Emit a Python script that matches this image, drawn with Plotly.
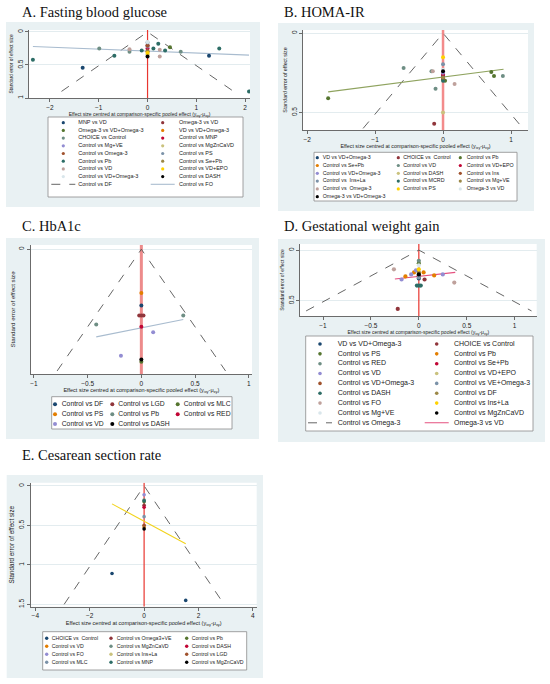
import plotly.graph_objects as go

W, H = 550, 684

# ---------------- data ----------------
# A. Fasting blood glucose
A_LABELS = ["MNP vs VD", "Omega-3 vs VD", "Omega-3 vs VD+Omega-3", "VD vs VD+Omega-3",
            "CHOICE vs Control", "Control vs MNP", "Control vs Mg+VE", "Control vs MgZnCaVD",
            "Control vs Omega-3", "Control vs PS", "Control vs Pb", "Control vs Se+Pb",
            "Control vs VD", "Control vs VD+EPO", "Control vs VD+Omega-3", "Control vs DASH"]
A_X = [[-1.33, 1.26], [0], [0.46], [0], [-0.99, 0.68, -0.37], [0], [0], [0], [0], [0],
       [-2.35, -0.68, -0.12, 0.12, 0.22, 0.36, 1.47, 2.08], [0], [-0.37, 0.25, 0.25], [0], [0], [0]]
A_SE = [[0.54, 0.36], [0.2], [0.23], [0.3], [0.25, 0.3, 0.3], [0.25], [0.22], [0.34], [0.21], [0.16],
        [0.42, 0.36, 0.28, 0.25, 0.18, 0.28, 0.25, 0.9], [0.29], [0.26, 0.27, 0.37], [0.32], [0.15], [0.37]]
A_FIT_X = [-2.35, 2.08]
A_FIT_SE = [0.22, 0.35]
A_SE_MAX = 0.9
A_LINE_LABELS = ["Control vs DF", "Control vs FO"]
A_XTICKS = [-2, -1, 0, 1, 2]
A_YTICKS = [0, 0.5, 1]

# B. HOMA-IR
B_LABELS = ["VD vs VD+Omega-3", "CHOICE vs  Control", "Control vs Pb", "Control vs Se+Pb",
            "Control vs VD", "Control vs VD+EPO", "Control vs VD+Omega-3", "Control vs DASH",
            "Control vs Ins", "Control vs  Ins+La", "Control vs MCRD", "Control vs Mg+VE",
            "Control vs  Omega-3", "Control vs PS", "Omega-3 vs VD", "Omega-3 vs VD+Omega-3"]
B_X = [[0], [-0.13], [-1.69, 0.71, 0.75, 0.03], [0], [-0.58, -0.17, 0.88, -0.11], [0], [0], [0],
       [0], [0], [0], [0], [-0.15, 0.17], [0], [0], [0]]
B_SE = [[0.27], [0.57], [0.41, 0.245, 0.27, 0.3], [0.29], [0.22, 0.24, 0.27, 0.35], [0.26], [0.25], [0.5],
        [0.285], [0.196], [0.3], [0.28], [0.24, 0.32], [0.152], [0.23], [0.24]]
B_FIT_X = [-1.69, 0.89]
B_FIT_SE = [0.37, 0.227]
B_SE_MAX = 0.6
B_LINE_LABELS = []
B_XTICKS = [-2, -1, 0, 1]
B_YTICKS = [0, 0.5]

# C. HbA1c
C_LABELS = ["Control vs DF", "Control vs LGD", "Control vs MLC", "Control vs PS",
            "Control vs Pb", "Control vs RED", "Control vs VD", "Control vs DASH"]
C_X = [[0], [-0.02, 0, 0.02], [0], [0], [-0.42, 0.39], [0], [0.11, -0.19], [0]]
C_SE = [[0.185], [0.218, 0.218, 0.218], [0.37], [0.144], [0.247, 0.218], [0.255], [0.273, 0.35], [0.362]]
C_FIT_X = [-0.42, 0.39]
C_FIT_SE = [0.288, 0.231]
C_SE_MAX = 0.4
C_LINE_LABELS = []
C_XTICKS = [-1, -0.5, 0, 0.5, 1]
C_YTICKS = [0]

# D. Gestational weight gain
D_LABELS = ["VD vs VD+Omega-3", "CHOICE vs Control", "Control vs PS", "Control vs Pb",
            "Control vs RED", "Control vs Se+Pb", "Control vs VD", "Control vs VD+EPO",
            "Control vs VD+Omega-3", "Control vs VE+Omega-3", "Control vs DASH", "Control vs DF",
            "Control vs FO", "Control vs Ins+La", "Control vs Mg+VE", "Control vs MgZnCaVD"]
D_X = [[0], [0.06, -0.22], [0], [-0.05, -0.14, 0.05, 0.16], [0], [0], [-0.03, -0.08, -0.18, 0.25],
       [0], [0], [0], [-0.02, 0, 0.02], [0], [-0.26, 0.37], [0], [0], [0]]
D_SE = [[0.28], [0.29, 0.58], [0.13], [0.22, 0.26, 0.22, 0.25], [0.105], [0.25], [0.2, 0.24, 0.29, 0.24],
        [0.23], [0.26], [0.27], [0.35, 0.35, 0.35], [0.22], [0.19, 0.32], [0.19], [0.15], [0.24]]
D_FIT_X = [-0.25, 0.38]
D_FIT_SE = [0.285, 0.22]
D_SE_MAX = 0.6
D_LINE_LABELS = ["Control vs Omega-3", "Omega-3 vs VD"]
D_XTICKS = [-1, -0.5, 0, 0.5, 1]
D_YTICKS = [0, 0.5]

# E. Cesarean section rate
E_LABELS = ["CHOICE vs  Control", "Control vs Omega3+VE", "Control vs Pb", "Control vs VD",
            "Control vs MgZnCaVD", "Control vs DASH", "Control vs FO", "Control vs Ins+La",
            "Control vs LGD", "Control vs MLC", "Control vs MNP", "Control vs MgZnCaVD"]
E_X = [[-1.18, 1.53], [0], [0], [0], [0], [0], [0], [0], [0], [0], [0], [0]]
E_SE = [[1.11, 1.45], [0.245], [0.2], [0.52], [0.18], [0.27], [0.114], [0.506], [0.5], [0.39], [0.19], [0.545]]
E_FIT_X = [-1.18, 1.53]
E_FIT_SE = [0.228, 0.734]
E_SE_MAX = 1.5
E_LINE_LABELS = []
E_XTICKS = [-4, -2, 0, 2, 4]
E_YTICKS = [0, 0.5, 1, 1.5]

XTITLE = "Effect size centred at comparison-specific pooled effect (y<sub>ixy</sub>-μ<sub>xy</sub>)"
YTITLE = "Standard error of effect size"

# ---------------- style ----------------
SANS = "Liberation Sans, Arial, sans-serif"
SERIF = "Liberation Serif, Times New Roman, serif"
BG = "#e9f1f3"
S2 = ["#1a476f", "#90353b", "#55752f", "#e37e00", "#6e8e84", "#c10534", "#938dd2", "#cac27e",
      "#a0522d", "#7b92a8", "#2d6d66", "#9c8847", "#bfa19c", "#ffd200", "#d9e6eb", "#000000"]

PANELS = [
    dict(title="A. Fasting blood glucose", labels=A_LABELS, x=A_X, se=A_SE, fit_x=A_FIT_X, fit_se=A_FIT_SE,
         se_max=A_SE_MAX, line_labels=A_LINE_LABELS, xticks=A_XTICKS, yticks=A_YTICKS),
    dict(title="B. HOMA-IR", labels=B_LABELS, x=B_X, se=B_SE, fit_x=B_FIT_X, fit_se=B_FIT_SE,
         se_max=B_SE_MAX, line_labels=B_LINE_LABELS, xticks=B_XTICKS, yticks=B_YTICKS),
    dict(title="C. HbA1c", labels=C_LABELS, x=C_X, se=C_SE, fit_x=C_FIT_X, fit_se=C_FIT_SE,
         se_max=C_SE_MAX, line_labels=C_LINE_LABELS, xticks=C_XTICKS, yticks=C_YTICKS),
    dict(title="D. Gestational weight gain", labels=D_LABELS, x=D_X, se=D_SE, fit_x=D_FIT_X, fit_se=D_FIT_SE,
         se_max=D_SE_MAX, line_labels=D_LINE_LABELS, xticks=D_XTICKS, yticks=D_YTICKS),
    dict(title="E. Cesarean section rate", labels=E_LABELS, x=E_X, se=E_SE, fit_x=E_FIT_X, fit_se=E_FIT_SE,
         se_max=E_SE_MAX, line_labels=E_LINE_LABELS, xticks=E_XTICKS, yticks=E_YTICKS),
]

# geometry in pixels of the 550x684 page
GEOM = [
    dict(colors=S2, fit_color="#a9bccf", red="#e8362f", red_w=1.2,
         title=(20, 12), bg=(6, 22, 260, 207), plot=(29, 30, 250, 98), xr=[-2.43, 2.1], yr=[1.0, -0.03],
         leg_box=(48, 117, 243, 197), leg_mx=[63.3, 162.7], leg_tx=[78.3, 179], row0=122.7, dy=7.7,
         leg_fs=5.5, leg_ms=3.2, ms=4, tick_fs=6.5, xt_fs=5, yt_fs=4.8),
    dict(colors=S2, fit_color="#8fa35f", red="rgba(240,110,110,0.8)", red_w=2.5,
         title=(282, 12), bg=(278, 23, 534, 211), plot=(303, 30, 528, 130), xr=[-2.06, 1.25], yr=[0.61, -0.02],
         leg_box=(314, 152.3, 517, 201), leg_mx=[317.3, 398.3, 460.3], leg_tx=[322.7, 403.3, 466.7],
         row0=157.7, dy=7.8, leg_fs=5.3, leg_ms=3.2, ms=4, tick_fs=6.5, xt_fs=5.3, yt_fs=5.3),
    dict(colors=S2[:7] + ["#000000"], fit_color="#a9bccf", red="rgba(230,90,90,0.7)", red_w=3,
         title=(20, 226), bg=(6, 238, 259, 439), plot=(30.7, 245, 252, 374), xr=[-1.03, 1.03], yr=[0.41, -0.014],
         leg_box=(51.7, 396.7, 232, 429), leg_mx=[55, 112.3, 177.7], leg_tx=[61.7, 118.3, 183.7],
         row0=404.3, dy=9.85, leg_fs=6.8, leg_ms=4, ms=4, tick_fs=6.5, xt_fs=5.5, yt_fs=6.2),
    dict(colors=S2, fit_color="#e5507f", red="#e8362f", red_w=1.2,
         title=(282, 226), bg=(278, 239, 545, 442), plot=(300, 244, 536.7, 316), xr=[-1.24, 1.23], yr=[0.65, -0.06],
         leg_box=(305.7, 336, 533, 431), leg_mx=[320, 436.7], leg_tx=[337.7, 454],
         row0=344, dy=9.85, leg_fs=7, leg_ms=3.6, ms=4.2, tick_fs=6.5, xt_fs=5, yt_fs=5),
    dict(colors=S2[:11] + ["#000000"], fit_color="#f2d31b", red="#e8362f", red_w=1.2,
         title=(20, 455), bg=(6.7, 475, 263, 678), plot=(30.7, 482.7, 256.7, 606.7), xr=[-4.17, 4.14], yr=[1.53, -0.04],
         leg_box=(42.7, 631.7, 246.7, 670), leg_mx=[46.7, 111, 186.7], leg_tx=[51.7, 116.7, 191.7],
         row0=638.3, dy=8, leg_fs=5.2, leg_ms=3.4, ms=3.6, tick_fs=6.5, xt_fs=5.5, yt_fs=6.3),
]


def fx(px):
    return px / W


def fy(py):
    return 1 - py / H


fig = go.Figure()
shapes, annotations, layout = [], [], {}

for i, (p, g) in enumerate(zip(PANELS, GEOM), start=1):
    xa, ya = f"x{i}", f"y{i}"
    bx0, by0, bx1, by1 = g["bg"]
    shapes.append(dict(type="rect", xref="paper", yref="paper", x0=fx(bx0), x1=fx(bx1), y0=fy(by1), y1=fy(by0),
                       fillcolor=BG, line_width=0, layer="below"))
    px0, py0, px1, py1 = g["plot"]
    shapes.append(dict(type="rect", xref="paper", yref="paper", x0=fx(px0), x1=fx(px1), y0=fy(py1), y1=fy(py0),
                       fillcolor="white", line_width=0, layer="below"))

    # null-effect line, funnel, fitted line
    fig.add_trace(go.Scatter(x=[0, 0], y=g["yr"], mode="lines", line=dict(color=g["red"], width=g["red_w"]),
                             xaxis=xa, yaxis=ya, hoverinfo="skip"))
    m = p["se_max"]
    fig.add_trace(go.Scatter(x=[-1.96 * m, 0, 1.96 * m], y=[m, 0, m], mode="lines",
                             line=dict(color="#555555", width=0.9, dash="dash"), xaxis=xa, yaxis=ya, hoverinfo="skip"))
    fig.add_trace(go.Scatter(x=p["fit_x"], y=p["fit_se"], mode="lines",
                             line=dict(color=g["fit_color"], width=1.1), xaxis=xa, yaxis=ya, hoverinfo="skip"))
    for lab, col, xs, ses in zip(p["labels"], g["colors"], p["x"], p["se"]):
        fig.add_trace(go.Scatter(x=xs, y=ses, mode="markers", name=lab, marker=dict(color=col, size=g["ms"]),
                                 xaxis=xa, yaxis=ya))

    tick = dict(family=SANS, size=g["tick_fs"], color="#222")
    common = dict(showline=True, linecolor="#6b6b6b", linewidth=0.8, ticks="outside", ticklen=3, tickwidth=0.8,
                  tickcolor="#6b6b6b", zeroline=False, fixedrange=True, tickfont=tick)
    layout[f"xaxis{i}"] = dict(common, domain=[fx(px0), fx(px1)], range=g["xr"], anchor=ya, tickvals=p["xticks"],
                               showgrid=False,
                               title=dict(text=XTITLE, font=dict(family=SANS, size=g["xt_fs"], color="#222"), standoff=2))
    layout[f"yaxis{i}"] = dict(common, domain=[fy(py1), fy(py0)], range=g["yr"], anchor=xa, tickvals=p["yticks"],
                               tickangle=-90, showgrid=True, gridcolor="#e3ecef", gridwidth=0.6,
                               title=dict(text=YTITLE, font=dict(family=SANS, size=g["yt_fs"], color="#222"), standoff=2))
    annotations.append(dict(text=p["title"], x=fx(g["title"][0]), y=fy(g["title"][1]), xref="paper", yref="paper",
                            xanchor="left", yanchor="middle", showarrow=False,
                            font=dict(family=SERIF, size=14.5, color="#111")))

    # hand-built legend box (Stata style, tight rows)
    j = i + 5
    lx, ly = f"x{j}", f"y{j}"
    lx0, ly0, lx1, ly1 = g["leg_box"]
    shapes.append(dict(type="rect", xref="paper", yref="paper", x0=fx(lx0), x1=fx(lx1), y0=fy(ly1), y1=fy(ly0),
                       fillcolor="white", line=dict(color="#8a8a8a", width=0.8), layer="below"))
    layout[f"xaxis{j}"] = dict(domain=[fx(lx0), fx(lx1)], range=[lx0, lx1], visible=False, anchor=ly, fixedrange=True)
    layout[f"yaxis{j}"] = dict(domain=[fy(ly1), fy(ly0)], range=[ly1, ly0], visible=False, anchor=lx, fixedrange=True)
    nc = len(g["leg_mx"])
    mk_x, mk_y, tx, ty, texts = [], [], [], [], []
    for k, lab in enumerate(p["labels"]):
        r, c = divmod(k, nc)
        mk_x.append(g["leg_mx"][c])
        mk_y.append(g["row0"] + r * g["dy"])
        tx.append(g["leg_tx"][c])
        ty.append(g["row0"] + r * g["dy"])
        texts.append(lab)
    fig.add_trace(go.Scatter(x=mk_x, y=mk_y, mode="markers", marker=dict(color=g["colors"], size=g["leg_ms"]),
                             xaxis=lx, yaxis=ly, hoverinfo="skip"))
    line_styles = [dict(color="#555555", width=0.9, dash="dash"), dict(color=g["fit_color"], width=1.1)]
    for k, lab in enumerate(p["line_labels"], start=len(p["labels"])):
        r, c = divmod(k, nc)
        yy = g["row0"] + r * g["dy"]
        fig.add_trace(go.Scatter(x=[g["leg_mx"][c] - 12, g["leg_mx"][c] + 12], y=[yy, yy], mode="lines",
                                 line=line_styles[k - len(p["labels"])], xaxis=lx, yaxis=ly, hoverinfo="skip"))
        tx.append(g["leg_tx"][c])
        ty.append(yy)
        texts.append(lab)
    fig.add_trace(go.Scatter(x=tx, y=ty, text=texts, mode="text", textposition="middle right",
                             textfont=dict(family=SANS, size=g["leg_fs"], color="#222"),
                             xaxis=lx, yaxis=ly, hoverinfo="skip"))

fig.update_layout(
    template="none",
    width=W, height=H,
    margin=dict(l=0, r=0, t=0, b=0),
    paper_bgcolor="white",
    plot_bgcolor="rgba(0,0,0,0)",
    showlegend=False,
    shapes=shapes,
    annotations=annotations,
    **layout,
)

# drop the browser's default 8px body margin so the page lines up with the window
fig.write_html("out.html", config={"displayModeBar": False},
               post_script="document.body.style.margin='0';document.body.style.overflow='hidden';")
